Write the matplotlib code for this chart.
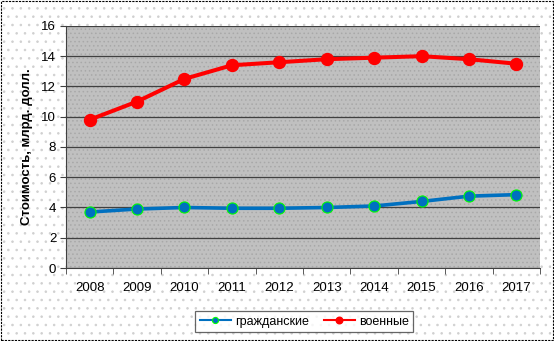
import matplotlib
matplotlib.use("Agg")
import matplotlib.pyplot as plt
from matplotlib.patches import Rectangle

plt.rcParams['font.family'] = ['Liberation Sans', 'DejaVu Sans']
plt.rcParams['hatch.linewidth'] = 0.6

years = ['2008', '2009', '2010', '2011', '2012', '2013', '2014', '2015', '2016', '2017']
civil = [3.7, 3.9, 4.0, 3.95, 3.95, 4.0, 4.1, 4.4, 4.75, 4.85]
military = [9.8, 11.0, 12.5, 13.4, 13.6, 13.8, 13.9, 14.0, 13.8, 13.5]
yticks = [0, 2, 4, 6, 8, 10, 12, 14, 16]
ylabel = 'Стоимость, млрд. долл.'
labels = ['гражданские', 'военные']

fig = plt.figure(figsize=(5.54, 3.41), dpi=100)
fig.patch.set_facecolor('white')
bg = Rectangle((0.003, 0.004), 0.994, 0.992, transform=fig.transFigure,
               facecolor='white', edgecolor='#d0d0d0', hatch='..', lw=0, zorder=-10)
fig.patches.append(bg)
border = Rectangle((0.002, 0.003), 0.996, 0.994, transform=fig.transFigure,
                   facecolor='none', edgecolor='black', lw=0.8, ls=(0, (2, 1)), zorder=10)
fig.patches.append(border)

ax = fig.add_axes([0.119, 0.214, 0.856, 0.710])
ax.set_zorder(1)
ax.set_facecolor('#c0c0c0')
ax.add_patch(Rectangle((0, 0), 1, 1, transform=ax.transAxes, facecolor='none',
                       edgecolor='#a8a8a8', hatch='....', lw=0, zorder=0))
x = list(range(len(years)))
ax.plot(x, civil, color='#0070c0', lw=2.6, marker='o', markersize=8,
        markerfacecolor='#0070c0', markeredgecolor='#00ff00', markeredgewidth=0.8,
        label=labels[0], zorder=3)
ax.plot(x, military, color='#ff0000', lw=2.9, marker='o', markersize=8.6,
        markerfacecolor='#ff0000', markeredgecolor='#ff0000',
        label=labels[1], zorder=3)

ax.set_xlim(-0.5, len(years) - 0.5)
ax.set_ylim(0, 16)
ax.set_yticks(yticks)
ax.set_yticklabels([str(v) for v in yticks], fontsize=9.5)
ax.set_xticks(x)
ax.set_xticklabels(years, fontsize=9.5)
ax.set_xticks([i - 0.5 for i in range(len(years) + 1)], minor=True)
ax.tick_params(axis='x', which='major', length=0, pad=10)
ax.tick_params(axis='x', which='minor', length=4, direction='out', color='#404040')
ax.tick_params(axis='y', length=4, direction='out', color='#404040', pad=3)
ax.grid(axis='y', color='#404040', lw=0.9, zorder=1)
ax.set_axisbelow(True)
for s in ['top', 'right']:
    ax.spines[s].set_visible(False)
ax.spines['left'].set_color('#404040')
ax.spines['bottom'].set_color('#404040')
ax.set_ylabel(ylabel, fontsize=9.5, fontweight='bold', labelpad=6)

leg = fig.legend(loc='center', bbox_to_anchor=(0.549, 0.057), ncol=2, fontsize=9,
                 frameon=True, fancybox=False, edgecolor='#404040', markerscale=0.55,
                 handlelength=2.5, handletextpad=0.3, columnspacing=1.2,
                 borderpad=0.35)
leg.get_frame().set_linewidth(0.9)
leg.set_zorder(5)
for line in leg.get_lines():
    line.set_linewidth(1.5)

fig.savefig('out.png', dpi=100)
